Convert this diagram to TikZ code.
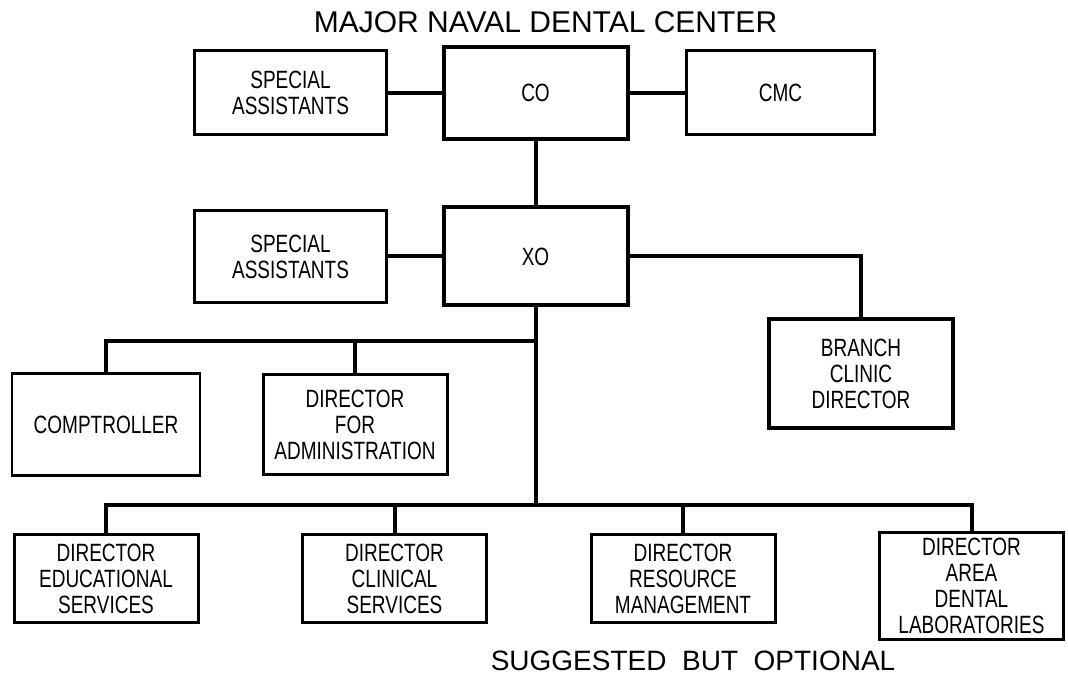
\documentclass[tikz,border=0pt]{standalone}
\usepackage{fontspec}
\setmainfont{Liberation Sans}
\newfontfamily\narrowfont[FakeStretch=0.76]{Liberation Sans}
\usetikzlibrary{shapes,arrows}
\tikzstyle{block} = [rectangle, draw, line width=1.5pt, 
text width=86pt, text centered, minimum height=44pt, inner sep=3pt]
\tikzstyle{line} = [draw, line width=2pt]
\tikzstyle{heading} = [font=\rmfamily\fontsize{15}{18}\selectfont]

\begin{document}
\begin{tikzpicture}[x=0.5pt,y=-0.5pt]
\narrowfont\fontsize{12.5}{13}\selectfont
\useasboundingbox[fill=white] (0,0) rectangle (1068,683);
 \node [block, line width=2pt, minimum height=46pt] (CO) at (535.5,93) {CO};
 \node [block, left of=CO, node distance=122.5pt, text width=90pt, minimum height=42pt] (SA1) {SPECIAL\\ASSISTANTS};
 \node [block, right of=CO, node distance=122.5pt, text width=88pt, minimum height=42pt] (CMC) {CMC};
 \node [block, below of=CO, node distance=81.75pt, line width=2pt, minimum height=49pt] (XO) {XO};
 \node [block, left of=XO, node distance=122.5pt, text width=90pt, minimum height=46pt] (SA2) {SPECIAL\\ASSISTANTS};
 \node [block, below of=XO, node distance=58.5pt, xshift=162.75pt, line width=2pt, minimum height=54pt] (BCD) {BRANCH\\CLINIC\\DIRECTOR};
 \node [block, below of=XO, node distance=84pt, xshift=-214.75pt, text width=88pt, minimum height=51pt, line width=1.2pt] (COMP) {COMPTROLLER};
 \node [block, right of=COMP, node distance=124.5pt, minimum height=50pt] (DFA) {DIRECTOR\\FOR\\ADMINISTRATION};
 \node [block, below of=COMP, node distance=77pt, minimum height=44pt] (DES) {DIRECTOR\\EDUCATIONAL\\SERVICES};
 \node [block, right of=DES, node distance=144.25pt, minimum height=44pt] (DCS) {DIRECTOR\\CLINICAL\\SERVICES};
 \node [block, right of=DCS, node distance=144.25pt, minimum height=44pt] (DRM) {DIRECTOR\\RESOURCE\\MANAGEMENT};
 \node [block, right of=DRM, node distance=144.25pt, yshift=-3.75pt, minimum height=53.5pt] (DADL) {DIRECTOR\\AREA\\DENTAL\\LABORATORIES};
 \node [heading, above of=CO, node distance=35.5pt, xshift=5pt] (title) {MAJOR NAVAL DENTAL CENTER};
 \node [heading, below of=DRM, node distance=41pt, xshift=5pt, font=\rmfamily\fontsize{14}{16}\selectfont] (note) {SUGGESTED\ \ BUT\ \ OPTIONAL};
 \coordinate [below of=XO, node distance=42.25pt] (bus1);
 \coordinate [below of=XO, node distance=124pt] (bus2);
 \path [line] (SA1) -- (CO);
 \path [line] (CO) -- (CMC);
 \path [line] (CO) -- (XO);
 \path [line] (SA2) -- (XO);
 \path [line] (XO.east) -| (BCD.north);
 \path [line] (XO) -- (bus2);
 \path [line] (COMP.north) |- (bus1);
 \path [line] (DFA.north) |- (bus1);
 \path [line] (DES.north) |- (bus2);
 \path [line] (DCS.north) |- (bus2);
 \path [line] (DRM.north) |- (bus2);
 \path [line] (DADL.north) |- (bus2);
\end{tikzpicture}
\end{document}
